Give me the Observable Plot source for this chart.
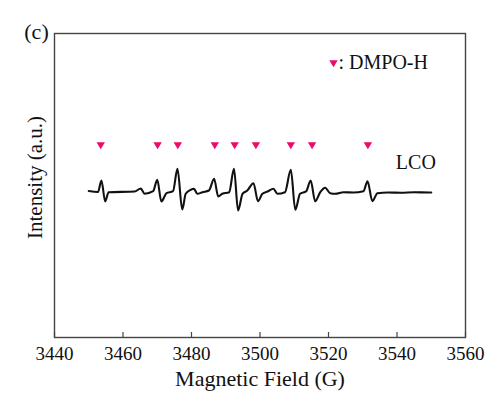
<!DOCTYPE html>
<html>
<head>
<meta charset="utf-8">
<script src="https://cdn.jsdelivr.net/npm/d3@7"></script>
<script src="https://cdn.jsdelivr.net/npm/@observablehq/plot@0.6"></script>
<style>
  html, body { margin: 0; padding: 0; background: #fff; }
  #chart { width: 491px; height: 396px; }
  #chart svg, #chart svg text { font-family: "Liberation Serif", "Times New Roman", "DejaVu Serif", serif !important; }
</style>
</head>
<body>
<div id="chart"></div>
<script>
// EPR spectrum (LCO) – magnetic field (G) and intensity (a.u.)
const field = [3450, 3452.7, 3453.7, 3454.8, 3455.8, 3463.4, 3465.2, 3466.3, 3468.8, 3470.0,
  3471.2, 3472.7, 3474.6, 3475.9, 3477.3, 3478.3, 3479.8, 3480.7, 3481.7, 3483.2,
  3485.1, 3486.6, 3487.8, 3489.0, 3491.0, 3492.4, 3493.6, 3494.9, 3496.3, 3498.1,
  3499.4, 3500.7, 3502.4, 3503.9, 3505.1, 3507.3, 3509.0, 3510.3, 3511.7, 3513.5,
  3514.8, 3516.1, 3517.6, 3519.0, 3520.5, 3522.0, 3524.4, 3527.3, 3530.2, 3531.4,
  3532.8, 3534.3, 3537.3, 3541.2, 3545.0, 3549.3, 3550];
const intensity = [-0.5, -1.5, 10, -11, -1.7, -1, 2, -3.3, -0.7, 10.7,
  -11, -2.7, -0.7, 21.7, -19, -3.3, 0.7, 1.7, -3.3, -1.7,
  0, 11.7, -6, -3.3, -1.7, 21.7, -20, -3.3, 0, 7.3,
  -10.7, -3.3, -0.7, 1.7, -3.3, -1.7, 20.7, -19.3, -3.3, -0.7,
  10, -10.7, -1.7, 2.7, -2.7, -3.3, -1.7, -2, -0.7, 9.3,
  -10.7, -2.7, -2, -2.3, -1.7, -2, -2];
// DMPO-H marker positions (G)
const markerField = [3453.5, 3470.1, 3476.0, 3486.8, 3492.6, 3498.8, 3509.0, 3515.2, 3531.5];
const markerLevel = 45;
const xTicks = [3440, 3460, 3480, 3500, 3520, 3540, 3560];
const seriesLabel = "LCO";
const legendLabel = ": DMPO-H";

const spectrum = field.map((f, i) => ({field: f, intensity: intensity[i]}));
const markers = markerField.map(f => ({field: f, level: markerLevel}));

const downTriangle = {
  draw(ctx, size) {
    const r = Math.sqrt(size / Math.PI);
    ctx.moveTo(-r, -r * 0.8);
    ctx.lineTo(r, -r * 0.8);
    ctx.lineTo(0, r * 0.9);
    ctx.closePath();
  }
};

const serif = "Liberation Serif";
const pink = "#ec0a6c";

const chart = Plot.plot({
  width: 491,
  height: 396,
  marginLeft: 54,
  marginRight: 26,
  marginTop: 33,
  marginBottom: 59,
  style: {fontFamily: serif, fontSize: "19px", color: "#111", background: "#fff"},
  x: {domain: [3440, 3560]},
  y: {domain: [-147, 157]},
  marks: [
    Plot.frame({stroke: "#444", strokeWidth: 1.4}),
    Plot.axisX({ticks: xTicks, tickFormat: d => String(d), tickSize: -5, tickPadding: 14,
      stroke: "#444", strokeWidth: 1.2, label: null, fontSize: 19, fontFamily: serif}),
    Plot.axisY({ticks: [], label: null}),
    Plot.text(["Magnetic Field (G)"], {frameAnchor: "bottom", lineAnchor: "middle", dy: 41, fontSize: 22, fontFamily: serif, fill: "#111"}),
    Plot.text(["Intensity (a.u.)"], {frameAnchor: "left", textAnchor: "middle", lineAnchor: "middle", dx: -19, dy: -8, rotate: -90, fontSize: 21, fontFamily: serif, fill: "#111"}),
    Plot.text(["(c)"], {frameAnchor: "top-left", textAnchor: "middle", lineAnchor: "middle", dx: -18, dy: -2, fontSize: 22, fontFamily: serif, fill: "#111"}),
    Plot.line(spectrum, {x: "field", y: "intensity", curve: "monotone-x", stroke: "#111", strokeWidth: 2.1, strokeLinejoin: "round"}),
    Plot.dot(markers, {x: "field", y: "level", symbol: downTriangle, r: 4.2, fill: pink, stroke: "none"}),
    Plot.dot([legendLabel], {frameAnchor: "top-left", dx: 279, dy: 30, symbol: downTriangle, r: 4.2, fill: pink, stroke: "none"}),
    Plot.text([legendLabel], {frameAnchor: "top-left", textAnchor: "start", lineAnchor: "middle", dx: 284, dy: 29, fontSize: 20, fontFamily: serif, fill: "#111"}),
    Plot.text([seriesLabel], {x: 3545.5, y: 28, fontSize: 20, fontFamily: serif, fill: "#111"})
  ]
});
document.getElementById("chart").appendChild(chart);
</script>
</body>
</html>
